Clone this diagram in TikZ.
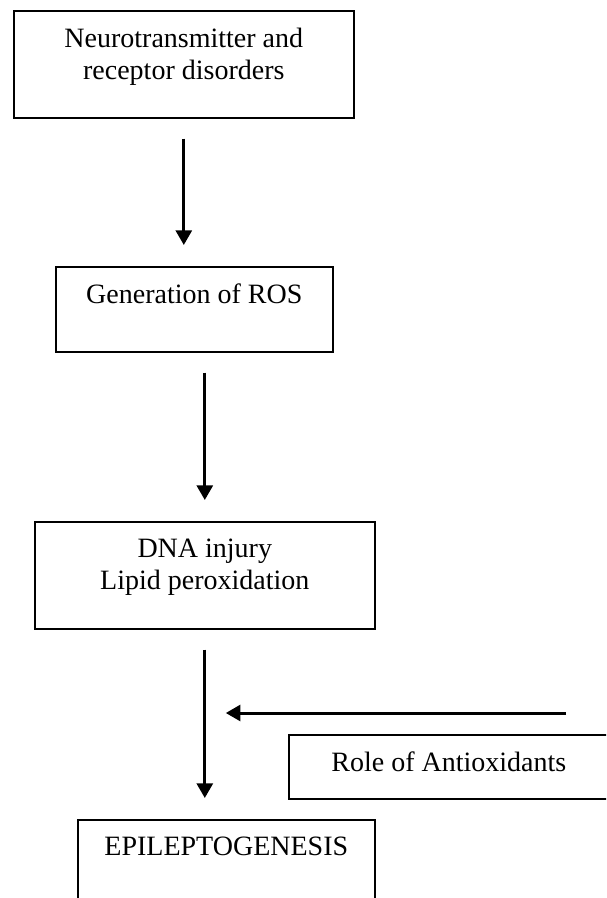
\documentclass[tikz,border=0pt]{standalone}
\usepackage{fontspec}
\setmainfont{Liberation Serif}
\usetikzlibrary{arrows.meta}
\tikzset{
Box/.style={
	draw, rectangle,
	line width=1.2pt,
	anchor=north west,
	inner sep=0pt
},
Txt/.style={
	align=center,
	font=\fontsize{21}{24}\selectfont,
	inner sep=0pt,
	anchor=north,
	yshift=-13pt
},
Edge/.style={
	draw=black,
	line width=2.25pt,
	-{Triangle[width=12pt,length=11pt]},
	shorten <=15pt,
	shorten >=15.75pt
}
}

\begin{document}
\begin{tikzpicture}[x=0.75pt, y=-0.75pt]
	\useasboundingbox (0,0) rectangle (606,898);
	\clip (0,0) rectangle (606,898);

	\node[Box, minimum width=255pt, minimum height=80.25pt,
		label={[Txt]north:{Neurotransmitter and\\receptor disorders}}] (NR) at (13,10) {};
	\node[Box, minimum width=207.75pt, minimum height=63.75pt,
		label={[Txt]north:{Generation of ROS}}] (ROS) at (55,266) {};
	\node[Box, minimum width=255pt, minimum height=80.25pt,
		label={[Txt]north:{DNA injury\\Lipid peroxidation}}] (DNA) at (34,521) {};
	\node[Box, minimum width=240pt, minimum height=48pt,
		label={[Txt]north:{Role of Antioxidants}}] (AO) at (288,734) {};
	\node[Box, minimum width=222.75pt, minimum height=80.25pt,
		label={[Txt]north:{EPILEPTOGENESIS}}] (EPI) at (77,819) {};

	\coordinate (AOin) at (566,713);

	\draw[Edge] (NR.south) -- (NR.south |- ROS.north);
	\draw[Edge] (ROS.south -| DNA.north) -- (DNA.north);
	\draw[Edge] (DNA.south) -- (DNA.south |- EPI.north);
	\draw[Edge, shorten <=0pt] (AOin) -- (AOin -| DNA.south);
\end{tikzpicture}
\end{document}
